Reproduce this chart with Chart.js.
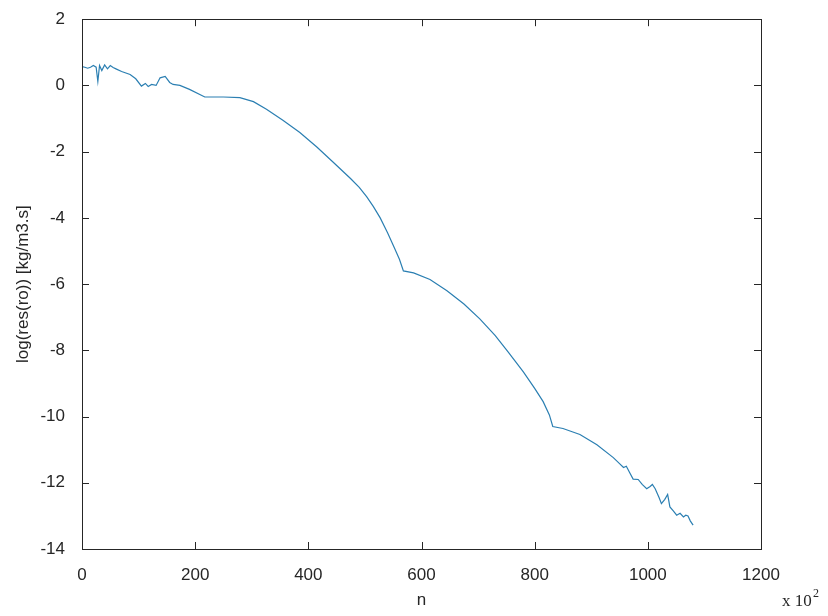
<!DOCTYPE html>
<html>
<head>
<meta charset="utf-8">
<script src="https://cdn.jsdelivr.net/npm/chart.js@4/dist/chart.umd.min.js"></script>
<style>
  html, body { margin: 0; padding: 0; background: #fff; }
  #wrap { width: 828px; height: 616px; }
</style>
</head>
<body>
<div id="wrap"><canvas id="resChart" width="828" height="616"></canvas></div>
<script>
// iteration number (x 10^2)
const iterations = [
	0, 5, 10, 15, 20, 25, 28, 31, 35, 40, 45, 50, 55, 60, 70, 85, 95, 105, 112, 117,
	123, 131, 138, 147, 155, 161, 173, 190, 217, 250, 279, 303, 326, 355, 385, 415,
	444, 475, 490, 503, 515, 527, 540, 552, 561, 568, 586, 615, 645, 675, 703, 730, 753, 780, 800,
	815, 826, 832, 850, 880, 910, 939, 950, 957, 962, 968, 974, 983, 990, 998, 1004, 1008,
	1013, 1020, 1024, 1030, 1035, 1039, 1045, 1051, 1057, 1063, 1067, 1071, 1075, 1080
];
// density residual, log10
const residual = [
	0.57, 0.55, 0.52, 0.55, 0.60, 0.55, 0.12, 0.60, 0.45, 0.62, 0.50, 0.60, 0.54, 0.50, 0.42, 0.33, 0.20, -0.02, 0.06, -0.03,
	0.03, 0.00, 0.23, 0.27, 0.09, 0.03, 0.00, -0.12, -0.35, -0.35, -0.37, -0.49, -0.72, -1.05, -1.42, -1.86,
	-2.32, -2.82, -3.08, -3.36, -3.66, -4.00, -4.45, -4.90, -5.25, -5.60, -5.66, -5.86, -6.20, -6.60, -7.05, -7.55, -8.05, -8.65, -9.15,
	-9.55, -9.95, -10.30, -10.36, -10.54, -10.85, -11.24, -11.42, -11.54, -11.50, -11.70, -11.89, -11.90, -12.05, -12.18, -12.11, -12.05,
	-12.18, -12.45, -12.63, -12.50, -12.35, -12.73, -12.85, -12.98, -12.92, -13.03, -12.98, -13.00, -13.15, -13.28
];
const xTicks = [0, 200, 400, 600, 800, 1000, 1200];
const yTicks = [2, 0, -2, -4, -6, -8, -10, -12, -14];

const axisColor = "#262626";
const fontFamily = "'Liberation Sans', Arial, sans-serif";

// box around the axes with inward tick marks on all four sides
const boxPlugin = {
	id: "box",
	afterDraw: function(chart) {
		const ctx = chart.ctx;
		const area = chart.chartArea;
		const xs = chart.scales.x;
		const ys = chart.scales.y;
		const len = 7;
		ctx.save();
		ctx.strokeStyle = axisColor;
		ctx.lineWidth = 1;
		ctx.beginPath();
		xs.ticks.forEach(function(t) {
			const px = Math.round(xs.getPixelForValue(t.value)) + 0.5;
			ctx.moveTo(px, area.bottom);
			ctx.lineTo(px, area.bottom - len);
			ctx.moveTo(px, area.top);
			ctx.lineTo(px, area.top + len);
		});
		ys.ticks.forEach(function(t) {
			const py = Math.round(ys.getPixelForValue(t.value)) + 0.5;
			ctx.moveTo(area.left, py);
			ctx.lineTo(area.left + len, py);
			ctx.moveTo(area.right, py);
			ctx.lineTo(area.right - len, py);
		});
		ctx.stroke();
		ctx.strokeRect(Math.round(area.left) + 0.5, Math.round(area.top) + 0.5,
			Math.round(area.right - area.left), Math.round(area.bottom - area.top));

		// exponent of the x axis
		ctx.fillStyle = axisColor;
		ctx.textBaseline = "alphabetic";
		ctx.font = "17px 'Liberation Serif', 'Times New Roman', serif";
		ctx.fillText("x 10", 782, 606);
		ctx.font = "12px 'Liberation Serif', 'Times New Roman', serif";
		ctx.fillText("2", 813, 597);
		ctx.restore();
	}
};

new Chart(document.getElementById("resChart"), {
	type: "scatter",
	data: {
		datasets: [{
			data: iterations.map(function(n, i) { return {x: n, y: residual[i]}; }),
			showLine: true,
			borderColor: "#2b7fb2",
			borderWidth: 1.2,
			pointRadius: 0,
			tension: 0,
			fill: false,
		}]
	},
	options: {
		responsive: false,
		animation: false,
		layout: {padding: {left: 0, right: 67, top: 14, bottom: 0}},
		plugins: {
			legend: {display: false},
			tooltip: {enabled: false},
		},
		scales: {
			x: {
				type: "linear",
				min: 0,
				max: 1200,
				afterFit: function(scale) { scale.height = 67; },
				afterBuildTicks: function(scale) {
					scale.ticks = xTicks.map(function(v) { return {value: v}; });
				},
				grid: {display: false},
				border: {display: false},
				ticks: {
					color: axisColor,
					padding: 8,
					maxRotation: 0,
					font: {family: fontFamily, size: 17},
					callback: function(value) { return String(value); },
				},
				title: {
					display: true,
					text: "n",
					color: axisColor,
					padding: {top: 0, bottom: 5},
					font: {family: fontFamily, size: 17},
				},
			},
			y: {
				type: "linear",
				min: -14,
				max: 2,
				afterFit: function(scale) { scale.width = 82; },
				afterBuildTicks: function(scale) {
					scale.ticks = yTicks.map(function(v) { return {value: v}; });
				},
				grid: {display: false},
				border: {display: false},
				ticks: {
					color: axisColor,
					padding: 9,
					font: {family: fontFamily, size: 17},
					callback: function(value) { return String(value); },
				},
				title: {
					display: true,
					text: "log(res(ro)) [kg/m3.s]",
					color: axisColor,
					padding: {top: 13, bottom: 0},
					font: {family: fontFamily, size: 17},
				},
			},
		},
	},
	plugins: [boxPlugin],
});
</script>
</body>
</html>
